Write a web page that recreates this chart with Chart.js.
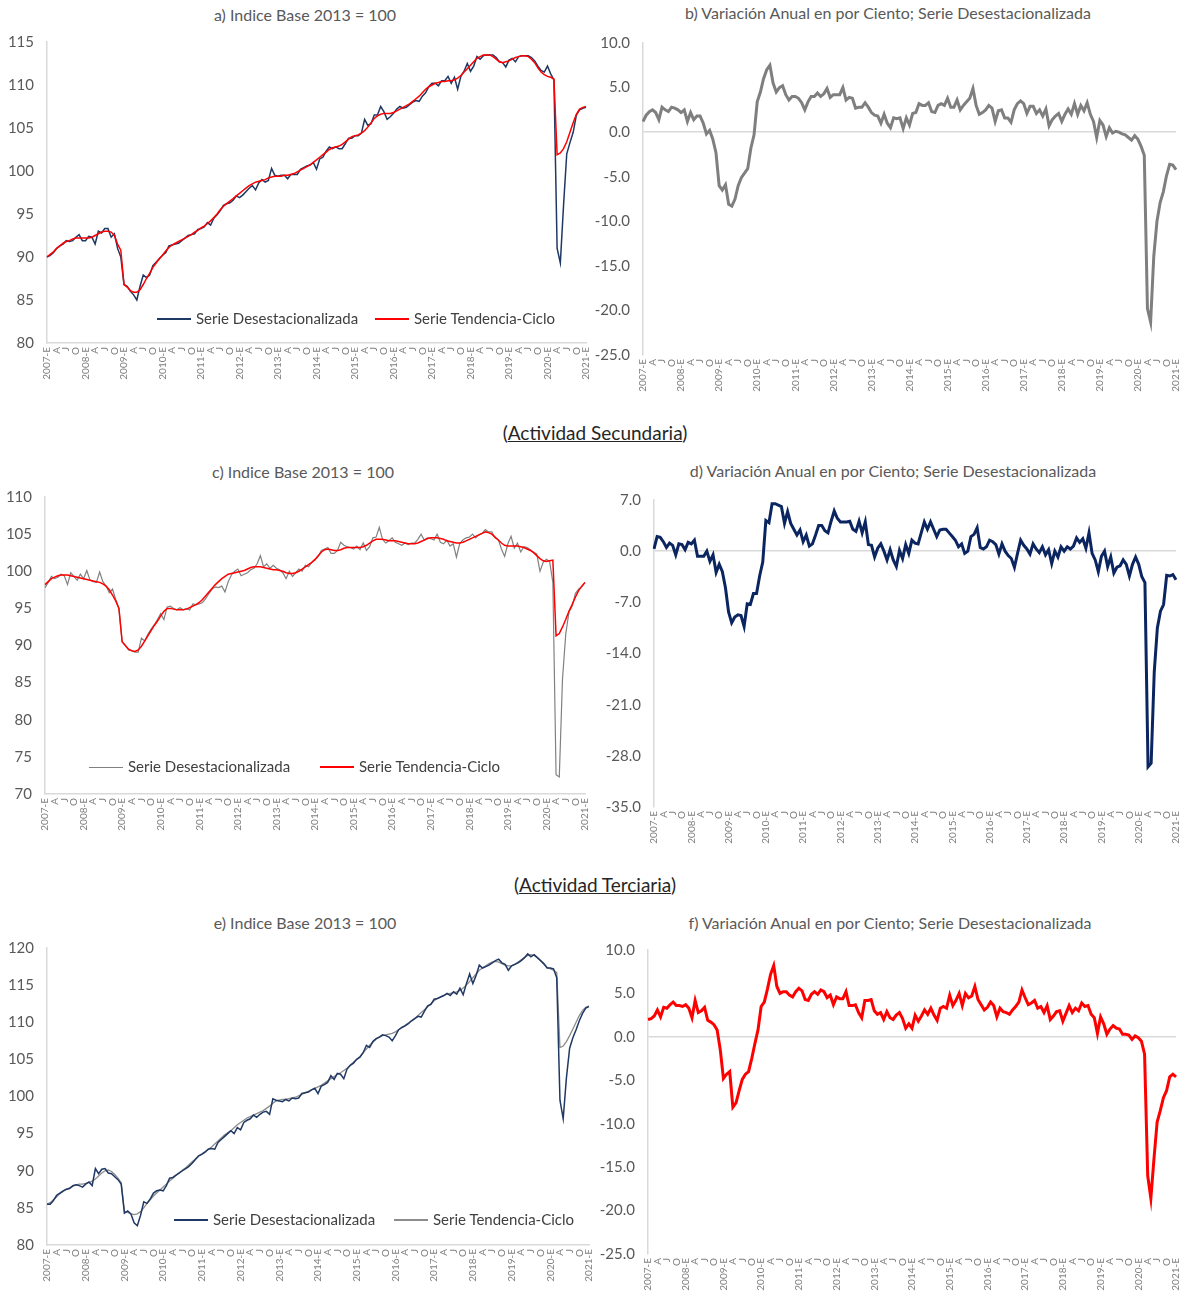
<!DOCTYPE html>
<html>
<head>
<meta charset="utf-8">
<script src="https://cdn.jsdelivr.net/npm/chart.js@4.4.1/dist/chart.umd.min.js"></script>
<style>
  body { margin: 0; background: #fff; width: 1183px; height: 1299px; position: relative; overflow: hidden; font-family: Lato, "Open Sans", sans-serif; }
  .panel { position: absolute; }
  .title { position: absolute; width: 600px; text-align: center; color: #595959; font-size: 16px; white-space: nowrap; }
  .header { position: absolute; width: 400px; left: 395px; text-align: center; color: #262626; font-size: 19px; }
  .lg { position: absolute; color: #404040; font-size: 15px; white-space: nowrap; line-height: 18px; }
  .sw { display: inline-block; width: 34px; height: 2px; vertical-align: middle; margin-right: 5px; margin-top: -2px; }
</style>
</head>
<body>

<div class="title" style="left:5px; top:5px;">a) Indice Base 2013 = 100</div>
<div class="title" style="left:588px; top:3px;">b) Variación Anual en por Ciento; Serie Desestacionalizada</div>
<div class="header" style="top:421px;">(<u>Actividad Secundaria</u>)</div>
<div class="title" style="left:3px; top:462px;">c) Indice Base 2013 = 100</div>
<div class="title" style="left:593px; top:461px;">d) Variación Anual en por Ciento; Serie Desestacionalizada</div>
<div class="header" style="top:873px;">(<u>Actividad Terciaria</u>)</div>
<div class="title" style="left:5px; top:913px;">e) Indice Base 2013 = 100</div>
<div class="title" style="left:590px; top:913px;">f) Variación Anual en por Ciento; Serie Desestacionalizada</div>

<div class="panel" style="left:0; top:0;"><canvas id="chartA" width="602" height="400"></canvas></div>
<div class="panel" style="left:595px; top:0;"><canvas id="chartB" width="597" height="408"></canvas></div>
<div class="panel" style="left:0; top:455px;"><canvas id="chartC" width="601" height="397"></canvas></div>
<div class="panel" style="left:595px; top:455px;"><canvas id="chartD" width="597" height="408"></canvas></div>
<div class="panel" style="left:0; top:905px;"><canvas id="chartE" width="605" height="394"></canvas></div>
<div class="panel" style="left:595px; top:905px;"><canvas id="chartF" width="597" height="394"></canvas></div>

<div class="lg" style="left:157px; top:309px;"><span class="sw" style="background:#1f3864"></span>Serie Desestacionalizada</div>
<div class="lg" style="left:375px; top:309px;"><span class="sw" style="background:#ff0000"></span>Serie Tendencia-Ciclo</div>
<div class="lg" style="left:89px; top:757px;"><span class="sw" style="background:#808080; height:1px"></span>Serie Desestacionalizada</div>
<div class="lg" style="left:320px; top:757px;"><span class="sw" style="background:#ff0000"></span>Serie Tendencia-Ciclo</div>
<div class="lg" style="left:174px; top:1210px;"><span class="sw" style="background:#1f3864"></span>Serie Desestacionalizada</div>
<div class="lg" style="left:394px; top:1210px;"><span class="sw" style="background:#8c8c8c"></span>Serie Tendencia-Ciclo</div>

<script>
// monthly series, 2007-E ... 2021-E (169 values each)
const years = [2007, 2008, 2009, 2010, 2011, 2012, 2013, 2014, 2015, 2016, 2017, 2018, 2019, 2020, 2021];
const quarterLetters = ['E', 'A', 'J', 'O'];

// a) total, seasonally adjusted and trend-cycle
const totalDesest = [
  90.0, 90.2, 90.5, 91.0, 91.3, 91.5, 91.9, 91.8, 91.9, 92.3, 92.6, 91.9,
  91.9, 92.4, 92.3, 91.5, 93.0, 92.8, 93.3, 93.3, 92.3, 92.7, 91.0, 90.0,
  86.8, 86.6, 86.0, 85.6, 85.0, 86.6, 87.9, 87.6, 87.9, 89.0, 89.4, 89.8,
  90.2, 90.5, 91.3, 91.4, 91.5, 91.6, 91.9, 92.2, 92.5, 92.6, 92.7, 93.2,
  93.3, 93.5, 94.0, 93.7, 94.5, 94.9, 95.4, 96.0, 96.2, 96.3, 96.6, 97.1,
  96.9, 97.2, 97.6, 98.0, 98.3, 97.8, 98.6, 99.0, 98.7, 98.9, 100.3, 99.5,
  99.4, 99.5, 99.5, 99.1, 99.6, 99.6, 99.6, 100.2, 100.4, 100.6, 100.7, 101.0,
  100.2, 101.4, 101.6, 102.3, 102.8, 102.6, 102.8, 102.6, 102.6, 103.2, 103.8, 103.8,
  104.1, 104.1, 104.4, 106.0, 105.3, 105.5, 106.5, 106.5, 107.5, 106.9, 106.0, 106.3,
  106.7, 107.2, 107.5, 107.3, 107.4, 107.7, 108.0, 108.2, 108.1, 108.7, 109.1, 109.8,
  110.2, 110.2, 109.9, 110.5, 110.5, 111.0, 110.2, 110.9, 109.5, 111.0, 111.6, 112.5,
  111.6, 112.2, 113.3, 113.0, 113.4, 113.5, 113.5, 113.5, 113.2, 112.7, 112.6, 112.1,
  112.9, 113.1, 112.7, 113.3, 113.4, 113.4, 113.4, 113.2, 112.8, 112.2, 111.7, 111.5,
  112.2, 111.3, 110.6, 91.0, 89.3, 96.0, 102.0, 103.3, 104.5, 106.5, 107.1, 107.3,
  107.4
];
const totalTendencia = [
  90.0, 90.3, 90.6, 91.0, 91.3, 91.6, 91.8, 91.9, 92.1, 92.2, 92.2, 92.2,
  92.2, 92.2, 92.3, 92.5, 92.7, 92.9, 93.0, 93.0, 92.9, 92.5, 91.5, 90.8,
  86.8, 86.5, 86.1, 85.9, 85.9, 86.2, 86.8, 87.5, 88.1, 88.8, 89.3, 89.8,
  90.2, 90.7, 91.1, 91.4, 91.6, 91.8, 92.0, 92.2, 92.4, 92.6, 92.9, 93.1,
  93.4, 93.6, 93.9, 94.2, 94.6, 95.0, 95.5, 95.9, 96.2, 96.5, 96.8, 97.1,
  97.4, 97.7, 98.0, 98.3, 98.5, 98.7, 98.8, 98.9, 99.0, 99.2, 99.3, 99.4,
  99.4, 99.4, 99.5, 99.5, 99.6, 99.7, 99.9, 100.1, 100.3, 100.5, 100.7, 101.0,
  101.3, 101.6, 101.9, 102.2, 102.5, 102.7, 102.8, 102.9, 103.1, 103.4, 103.7, 104.0,
  104.1, 104.2, 104.4, 104.7, 105.1, 105.6, 106.1, 106.4, 106.6, 106.7, 106.7, 106.7,
  106.8, 107.0, 107.2, 107.4, 107.6, 107.8, 108.1, 108.4, 108.7, 109.1, 109.5, 109.8,
  110.0, 110.2, 110.3, 110.4, 110.4, 110.5, 110.5, 110.6, 110.8, 111.1, 111.5, 111.9,
  112.3, 112.7, 113.1, 113.3, 113.5, 113.5, 113.5, 113.3, 113.0, 112.7, 112.6, 112.7,
  112.8, 113.0, 113.2, 113.3, 113.4, 113.4, 113.3, 113.0, 112.6, 112.0, 111.5, 111.2,
  111.0, 110.9, 110.7, 101.9, 102.1, 102.6, 103.4, 104.5, 105.6, 106.6, 107.2, 107.4,
  107.5
];
// b) total, annual % change
const totalVarAnual = [
  1.2, 1.9, 2.3, 2.5, 2.2, 1.4, 2.8, 2.5, 2.3, 2.8, 2.7, 2.5,
  2.2, 2.5, 1.2, 2.2, 1.4, 1.8, 1.8, 1.0, -0.2, 0.2, -0.8, -2.3,
  -6.0, -6.5, -5.9, -8.1, -8.3, -7.5, -6.0, -5.1, -4.6, -4.1, -1.8, -0.3,
  3.4, 4.5, 6.0, 7.0, 7.5, 5.5, 4.5, 5.0, 5.2, 4.2, 3.6, 4.0,
  4.0, 3.8, 3.3, 2.5, 3.4, 4.0, 4.0, 4.4, 4.0, 4.3, 4.9, 3.9,
  4.2, 4.2, 4.2, 5.0, 3.6, 3.9, 3.8, 2.7, 2.8, 2.8, 3.3, 2.8,
  2.2, 1.9, 1.8, 1.0, 2.0, 1.0, 0.5, 1.6, 1.5, 1.6, 0.4, 1.6,
  0.8, 2.1, 2.2, 3.2, 3.0, 3.0, 3.3, 2.3, 2.2, 3.0, 3.2, 3.0,
  3.8, 2.8, 2.8, 3.6, 2.5, 3.0, 3.4, 3.8, 4.9, 3.0, 2.0, 2.2,
  2.5, 3.0, 2.7, 1.2, 2.4, 2.5, 1.6, 1.6, 1.1, 2.5, 3.2, 3.5,
  3.2, 2.1, 2.9, 2.9, 2.1, 2.5, 1.8, 2.6, 0.7, 1.4, 1.8, 2.1,
  1.2, 2.0, 2.6, 2.0, 3.2, 2.0, 3.0, 2.4, 3.3, 2.0, 1.2, -0.6,
  1.3, 0.8, -0.5, 0.5, -0.1, 0.1, 0.0, -0.2, -0.3, -0.6, -0.9, -0.4,
  -0.8, -1.6, -2.6, -19.8, -21.3, -13.9, -10.0, -7.9, -6.7, -4.9, -3.6, -3.7,
  -4.2
];

// c) secondary activities
const secDesest = [
  97.8, 98.5, 99.3, 99.0, 99.2, 99.6, 99.4, 98.2, 99.8, 99.3, 98.8, 99.6,
  99.0, 100.1, 98.8, 98.6, 98.5, 99.9, 98.6, 98.0, 97.1, 97.6, 96.2, 95.0,
  90.5, 90.0, 89.4, 89.3, 89.1, 89.1, 91.0, 90.6, 91.5, 92.2, 92.8, 93.5,
  94.3, 93.5, 95.2, 95.3, 95.0, 94.8, 95.1, 94.8, 95.0, 94.8, 95.6, 95.5,
  95.6, 95.8, 96.3, 97.0, 97.6, 97.9, 97.8, 98.0, 97.2, 98.6, 99.5, 100.0,
  100.3, 99.4, 99.6, 99.8, 100.2, 100.4, 101.0, 102.1, 100.6, 101.0, 100.4, 100.8,
  100.4, 100.2, 99.8, 99.0, 100.0, 99.3, 99.8, 100.3, 100.0, 100.8, 100.6, 101.2,
  101.5, 102.0, 102.8, 103.0, 103.2, 102.4, 102.4, 102.8, 103.9, 103.5, 103.3, 103.2,
  103.0, 103.4, 102.9, 103.8, 102.8, 103.3, 104.5, 104.6, 105.9, 104.3, 103.8, 104.1,
  104.5, 103.9, 103.7, 103.5, 103.8, 103.6, 103.8, 103.8, 104.3, 105.0, 104.2, 104.5,
  104.4, 104.2, 105.0, 103.9, 103.7, 104.2, 103.4, 103.7, 101.9, 103.7, 104.2, 104.5,
  104.6, 105.0, 104.5, 104.9, 105.1, 105.6, 105.3, 105.3, 104.5, 104.3, 103.0, 102.0,
  103.7, 104.7, 103.1, 103.8, 102.6, 103.3, 103.2, 102.9, 102.6, 102.3, 100.0, 101.2,
  101.6, 101.3, 98.5, 72.6, 72.3, 85.5, 91.5, 94.5, 95.3, 97.0, 97.6, 97.9,
  98.5
];
const secTendencia = [
  98.2, 98.6, 99.0, 99.2, 99.4, 99.5, 99.5, 99.5, 99.4, 99.3, 99.2, 99.1,
  99.0, 98.9, 98.8, 98.7, 98.6, 98.5, 98.3, 98.0, 97.5, 96.8, 96.0, 95.0,
  90.5, 90.0, 89.5, 89.3, 89.2, 89.4, 89.9, 90.6, 91.3, 92.0, 92.7, 93.3,
  94.0, 94.6, 95.0, 95.0, 94.9, 94.8, 94.8, 94.8, 94.9, 95.1, 95.3, 95.5,
  95.8, 96.2, 96.7, 97.2, 97.7, 98.2, 98.6, 99.0, 99.3, 99.6, 99.7, 99.8,
  99.9, 100.0, 100.1, 100.3, 100.5, 100.6, 100.6, 100.6, 100.5, 100.4, 100.3, 100.2,
  100.2, 100.1, 100.0, 99.8, 99.7, 99.7, 99.8, 100.0, 100.3, 100.6, 100.9, 101.2,
  101.6, 102.1, 102.6, 102.9, 103.0, 102.9, 102.8, 102.8, 102.9, 103.1, 103.2, 103.2,
  103.2, 103.2, 103.2, 103.3, 103.5, 103.8, 104.1, 104.3, 104.3, 104.3, 104.2, 104.1,
  104.1, 104.1, 104.0, 103.9, 103.8, 103.7, 103.7, 103.7, 103.8, 104.0, 104.2, 104.4,
  104.5, 104.5, 104.5, 104.4, 104.3, 104.1, 104.0, 103.9, 103.8, 103.8, 103.9, 104.1,
  104.3, 104.5, 104.7, 104.9, 105.1, 105.3, 105.2, 105.0, 104.6, 104.2, 103.8, 103.5,
  103.4, 103.4, 103.4, 103.4, 103.3, 103.2, 103.0, 102.8, 102.5, 102.1, 101.7, 101.4,
  101.3, 101.4, 101.5, 91.3, 91.6, 92.5, 93.5, 94.6, 95.5, 96.5, 97.4, 98.0,
  98.5
];
// d) secondary, annual % change
const secVarAnual = [
  0.3, 2.0, 1.9, 1.3, 0.5, 1.1, 0.8, -0.5, 1.0, 0.9, 0.2, 1.2,
  1.0, 1.5, -0.7, -0.7, -0.7, 0.0, -1.4, -0.5, -2.9, -1.8, -2.8, -5.0,
  -8.3, -9.8, -9.0, -8.7, -8.8, -10.3, -7.2, -7.3, -5.8, -5.8, -3.4, -1.5,
  4.2, 3.9, 6.5, 6.5, 6.3, 6.1, 3.8, 5.4, 3.8, 3.0, 2.2, 2.9,
  1.3, 2.2, 0.7, 1.0, 2.2, 3.5, 3.5, 2.8, 2.5, 4.1, 5.5, 4.5,
  4.0, 4.0, 4.0, 4.1, 3.0, 2.7, 4.1, 2.5, 4.0, 0.9, 0.8, -0.8,
  0.4, 1.0, 0.0, -1.2, 0.2, -1.2, -2.1, 0.1, -1.0, 0.9, -0.3, 1.5,
  1.1, 1.0, 2.5, 4.0, 3.0, 4.0, 3.0, 2.0, 2.9, 3.0, 3.0, 2.5,
  2.0, 1.5, 0.6, 1.0, -0.3, 0.0, 2.0, 2.3, 3.2, 0.5, 0.3, 0.6,
  1.5, 1.3, 0.9, -0.4, 1.0, 0.0, -0.6, -1.0, -2.2, -0.3, 1.5, 0.8,
  0.3, -0.4, 1.0, 0.3, -0.2, 0.6, -0.5, 0.2, -1.7, 0.0, -0.8, 0.6,
  0.0, 0.6, 0.3, 0.7, 1.8, 1.2, 1.7, 0.4, 2.5, -0.3, -1.2, -2.8,
  -0.7, 0.0, -2.1, -0.8, -3.0, -2.2, -2.0, -1.2, -1.8, -3.4, -1.8, -0.8,
  -1.8, -3.5, -4.3, -29.5, -29.0, -16.5, -10.5, -8.2, -7.3, -3.3, -3.4, -3.2,
  -3.9
];

// e) tertiary activities
const terDesest = [
  85.5, 85.5, 86.0, 86.7, 87.0, 87.3, 87.5, 87.6, 88.0, 88.1, 88.0, 87.8,
  88.2, 88.5, 88.0, 90.3, 89.6, 90.2, 90.3, 89.7, 89.6, 89.2, 88.8, 88.2,
  84.3, 84.6, 84.2, 83.0, 82.6, 84.0, 85.8, 85.6, 86.2, 87.0, 87.3, 87.4,
  87.3, 88.0, 89.0, 89.1, 89.4, 89.7, 90.0, 90.3, 90.6, 91.0, 91.5, 92.0,
  92.2, 92.5, 92.9, 93.0, 92.9, 93.8, 94.2, 94.6, 95.0, 95.4, 95.0, 95.8,
  95.5, 96.5, 96.8, 97.0, 97.5, 97.2, 97.6, 97.9, 98.0, 97.6, 99.7, 99.5,
  99.4, 99.3, 99.6, 99.4, 99.8, 99.7, 99.8, 100.4, 100.5, 100.6, 100.9, 101.1,
  100.4, 101.4, 101.6, 101.9, 102.8, 102.3, 103.1, 103.0, 102.4, 103.7, 104.2, 104.5,
  105.0, 105.3, 105.9, 106.9, 106.6, 107.4, 107.8, 108.0, 108.3, 108.2, 108.0, 107.5,
  108.2, 109.0, 109.3, 109.5, 109.8, 110.2, 110.5, 110.8, 110.7, 111.5, 112.2, 112.4,
  113.1, 113.2, 113.4, 113.6, 113.9, 113.6, 114.1, 113.8, 114.6, 113.7, 115.2, 116.5,
  115.2, 116.3, 117.7, 117.3, 117.5, 117.7, 118.0, 118.3, 118.5, 118.0, 117.8, 117.0,
  117.6, 117.8, 118.0, 118.3, 118.7, 119.2, 118.8, 119.1, 118.7, 118.3, 117.9, 117.3,
  117.3, 117.2, 116.0, 99.5, 97.0, 102.5, 106.5, 107.9, 109.0, 110.2, 111.2, 111.9,
  112.1
];
const terTendencia = [
  85.5, 85.7, 86.1, 86.5, 86.9, 87.2, 87.5, 87.7, 87.9, 88.1, 88.2, 88.2,
  88.3, 88.4, 88.6, 88.9, 89.3, 89.7, 90.0, 90.1, 89.9, 89.5, 89.0, 88.4,
  84.5, 84.4, 84.2, 84.1, 84.2, 84.5, 85.0, 85.6, 86.1, 86.6, 87.0, 87.4,
  87.8, 88.2, 88.6, 89.0, 89.4, 89.7, 90.1, 90.4, 90.8, 91.2, 91.6, 92.0,
  92.3, 92.6, 92.9, 93.2, 93.6, 94.0, 94.4, 94.8, 95.1, 95.4, 95.8, 96.2,
  96.5, 96.8, 97.1, 97.3, 97.5, 97.7, 97.9, 98.1, 98.4, 98.7, 99.1, 99.4,
  99.5, 99.6, 99.6, 99.7, 99.8, 99.9, 100.1, 100.3, 100.5, 100.7, 100.9, 101.1,
  101.3, 101.5, 101.8, 102.1, 102.4, 102.7, 103.0, 103.2, 103.5, 103.8, 104.2, 104.6,
  105.0, 105.4, 105.9, 106.4, 106.9, 107.3, 107.7, 108.0, 108.2, 108.3, 108.4, 108.5,
  108.7, 109.0, 109.3, 109.6, 109.9, 110.2, 110.5, 110.9, 111.3, 111.7, 112.1, 112.5,
  112.9, 113.2, 113.4, 113.6, 113.8, 113.9, 114.0, 114.1, 114.3, 114.6, 115.0, 115.5,
  116.0, 116.5, 117.0, 117.3, 117.6, 117.9, 118.1, 118.2, 118.1, 117.9, 117.7, 117.6,
  117.6, 117.8, 118.1, 118.4, 118.7, 119.0, 119.1, 119.0, 118.7, 118.3, 117.8, 117.4,
  117.2, 117.0, 116.7, 106.6, 106.8, 107.4, 108.2, 109.1, 110.0, 110.9, 111.6, 112.0,
  112.2
];
// f) tertiary, annual % change
const terVarAnual = [
  2.0, 2.1, 2.4, 3.1, 2.3, 3.4, 3.3, 3.7, 4.0, 3.6, 3.6, 3.5,
  3.7, 3.3, 2.2, 4.2, 2.8, 3.0, 3.4, 1.9, 1.7, 1.4, 0.8, -1.5,
  -4.8, -4.3, -4.0, -8.1, -7.6, -6.2, -4.9, -4.3, -4.0, -2.5, -0.8, 0.8,
  3.5, 4.0, 5.5, 7.2, 8.2, 5.8, 5.0, 5.2, 5.2, 4.8, 4.6, 5.2,
  5.6, 5.3, 4.3, 4.2, 4.9, 5.2, 4.9, 5.4, 5.2, 4.5, 4.8, 3.7,
  4.6, 4.4, 4.4, 5.2, 3.6, 3.6, 3.7, 2.8, 2.2, 4.2, 4.2, 4.3,
  3.0, 2.6, 2.8, 2.0, 2.9, 2.2, 2.0, 2.5, 2.8, 2.1, 1.0, 1.5,
  1.0, 2.5, 1.8, 2.4, 3.1, 2.6, 3.3, 2.5, 1.9, 3.3, 3.5, 3.3,
  4.8, 3.6, 4.2, 5.0, 3.6, 5.0, 4.5, 4.7, 5.8, 4.3, 3.7, 3.1,
  3.4, 4.0, 3.6, 2.3, 3.3, 2.9, 2.8, 2.6, 3.1, 3.5, 4.0, 5.4,
  4.5, 3.7, 3.9, 4.2, 3.3, 3.5, 2.8, 3.6, 2.0, 2.4, 2.9, 3.0,
  1.8, 2.7, 3.6, 2.8, 3.3, 3.0, 3.9, 3.5, 3.6, 2.6, 2.2, 0.4,
  2.3, 1.5, 0.3, 0.9, 1.3, 1.0, 0.9, 0.3, 0.3, 0.2, -0.3, 0.1,
  -0.1, -0.5, -2.0, -16.0, -18.6, -14.0, -9.8, -8.5, -7.0, -6.2, -4.6, -4.3,
  -4.6
];

// tick labels: "2007-E", then A, J, O for each quarter
const monthLabels = [];
years.forEach(function (yr) {
  const months = yr === 2021 ? 1 : 12;
  for (let m = 0; m < months; m++) {
    if (m === 0) monthLabels.push(yr + '-' + quarterLetters[0]);
    else if (m % 3 === 0) monthLabels.push(quarterLetters[m / 3]);
    else monthLabels.push('');
  }
});

Chart.defaults.font.family = 'Lato, "Open Sans", sans-serif';
Chart.defaults.color = '#595959';

const axisGray = '#d9d9d9';

function lineSet(data, color, width, order) {
  return {
    data: data,
    borderColor: color,
    backgroundColor: color,
    borderWidth: width,
    pointRadius: 0,
    tension: 0,
    order: order
  };
}

function makeChart(id, datasets, opts) {
  const zeroLine = opts.zeroLine;
  new Chart(document.getElementById(id).getContext('2d'), {
    type: 'line',
    data: { labels: monthLabels, datasets: datasets },
    options: {
      responsive: false,
      animation: false,
      layout: { padding: { top: opts.padTop, right: 0, left: 0, bottom: 0 } },
      plugins: { legend: { display: false }, tooltip: { enabled: false } },
      scales: {
        x: {
          grid: { display: false, drawTicks: false },
          border: { display: !zeroLine, color: axisGray, width: 1.5 },
          ticks: {
            autoSkip: false,
            maxRotation: 90,
            minRotation: 90,
            padding: 4,
            font: { size: 10 },
            color: '#7f7f7f'
          },
          afterFit: function (s) { s.height = opts.xHeight; }
        },
        y: {
          min: opts.min,
          max: opts.max,
          grid: {
            display: zeroLine,
            drawTicks: false,
            lineWidth: 1.5,
            color: function (ctx) { return ctx.tick && ctx.tick.value === 0 ? axisGray : 'rgba(0,0,0,0)'; }
          },
          border: { display: true, color: axisGray, width: 1.5 },
          ticks: {
            stepSize: opts.step,
            padding: 13,
            font: { size: 15 },
            color: '#595959',
            callback: function (v) { return opts.decimals ? v.toFixed(1) : v; }
          },
          afterFit: function (s) { s.width = opts.yWidth; }
        }
      }
    }
  });
}

makeChart('chartA', [
  lineSet(totalDesest, '#1f3864', 1.5, 1),
  lineSet(totalTendencia, '#ff0000', 1.5, 0)
], { min: 80, max: 115, step: 5, padTop: 42, xHeight: 57, yWidth: 47 });

makeChart('chartB', [
  lineSet(totalVarAnual, '#7f7f7f', 3, 0)
], { min: -25, max: 10, step: 5, decimals: true, zeroLine: true, padTop: 43, xHeight: 53, yWidth: 48 });

makeChart('chartC', [
  lineSet(secDesest, '#808080', 1.2, 1),
  lineSet(secTendencia, '#ff0000', 1.5, 0)
], { min: 70, max: 110, step: 5, padTop: 42, xHeight: 58, yWidth: 45 });

makeChart('chartD', [
  lineSet(secVarAnual, '#0b2560', 3, 0)
], { min: -35, max: 7, step: 7, decimals: true, zeroLine: true, padTop: 45, xHeight: 56, yWidth: 59 });

makeChart('chartE', [
  lineSet(terDesest, '#1f3864', 1.5, 0),
  lineSet(terTendencia, '#8c8c8c', 1.3, 1)
], { min: 80, max: 120, step: 5, padTop: 43, xHeight: 54, yWidth: 47 });

makeChart('chartF', [
  lineSet(terVarAnual, '#ff0000', 3, 0)
], { min: -25, max: 10, step: 5, decimals: true, zeroLine: true, padTop: 45, xHeight: 45, yWidth: 53 });
</script>
</body>
</html>
